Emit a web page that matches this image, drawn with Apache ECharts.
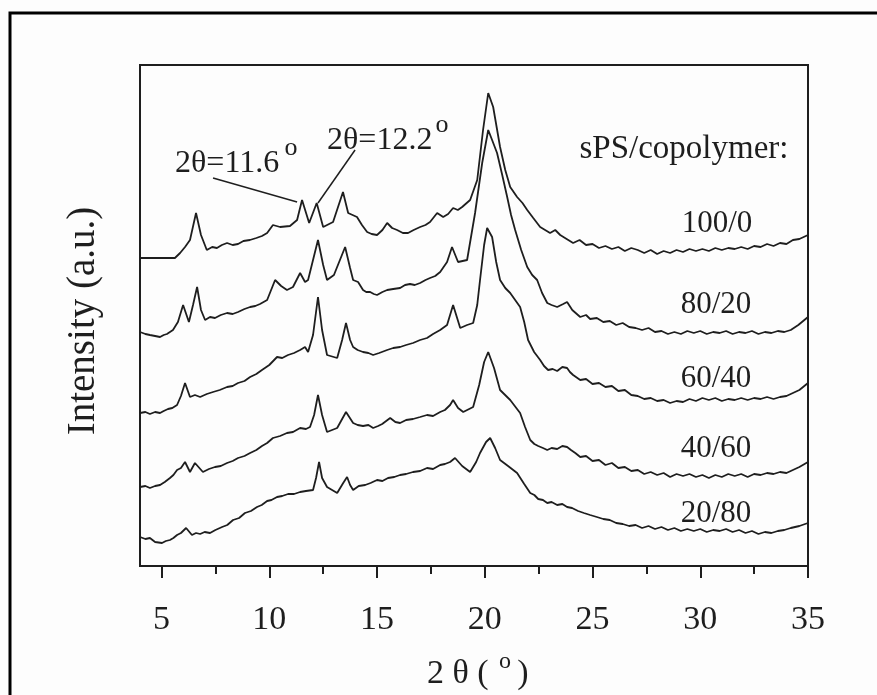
<!DOCTYPE html>
<html>
<head>
<meta charset="utf-8">
<title>sPS/copolymer XRD</title>
<script src="https://cdn.jsdelivr.net/npm/echarts@6/dist/echarts.min.js"></script>
<style>
  html, body { margin: 0; padding: 0; background: #fff; }
  #chart { width: 877px; height: 695px; }
</style>
</head>
<body>
<div id="chart"></div>
<script>
// values: [2theta, intensity (arbitrary, stacked)]
const s100_0 = [[4.0,308],[5.62,308],[5.86,313],[6.09,319],[6.32,326],[6.6,353],[6.83,331],[7.1,316],[7.35,319],[7.57,318],[7.8,321],[8.04,323],[8.3,321],[8.55,322],[8.8,325],[9.1,326],[9.4,328],[9.66,330],[9.9,333],[10.17,341],[10.5,339],[10.96,340],[11.29,346],[11.52,366],[11.85,343],[12.2,363],[12.5,339],[12.96,344],[13.42,374],[13.66,353],[14.07,349],[14.3,341],[14.54,334],[14.75,332],[15.0,331],[15.25,336],[15.47,343],[15.7,338],[15.93,336],[16.2,333],[16.44,333],[16.7,336],[17.0,339],[17.25,341],[17.46,344],[17.79,353],[18.07,349],[18.3,352],[18.53,358],[18.75,356],[18.95,359],[19.32,366],[19.65,386],[19.92,436],[20.16,473],[20.39,459],[20.71,419],[20.95,396],[21.18,379],[21.5,369],[21.75,363],[21.97,356],[22.25,348],[22.57,339],[22.8,336],[23.03,333],[23.27,336],[23.5,331],[23.8,327],[24.1,323],[24.4,326],[24.7,321],[25.0,322],[25.3,318],[25.6,320],[25.9,317],[26.2,319],[26.5,315],[26.8,318],[27.1,316],[27.4,313],[27.7,316],[28.0,312],[28.3,315],[28.6,313],[28.9,316],[29.2,314],[29.5,317],[29.8,315],[30.1,317],[30.4,315],[30.7,318],[31.0,316],[31.3,318],[31.6,317],[31.9,319],[32.2,317],[32.5,320],[32.8,319],[33.1,322],[33.4,320],[33.7,323],[34.0,322],[34.3,326],[34.6,327],[35.0,331]];
const s80_20 = [[4.0,234],[4.25,232],[4.46,231],[4.7,230],[4.93,229],[5.1,231],[5.25,232],[5.53,236],[5.76,244],[6.0,261],[6.27,244],[6.46,261],[6.65,279],[6.83,256],[7.02,246],[7.25,249],[7.48,248],[7.75,251],[8.04,253],[8.3,252],[8.55,254],[8.85,257],[9.11,259],[9.35,260],[9.57,262],[9.9,266],[10.27,286],[10.55,280],[10.82,276],[11.1,279],[11.43,293],[11.66,284],[11.8,286],[12.26,326],[12.5,301],[12.68,286],[13.0,291],[13.52,319],[13.75,298],[13.89,286],[14.12,284],[14.35,276],[14.5,274],[14.68,274],[14.85,272],[15.0,271],[15.25,274],[15.47,276],[15.75,277],[16.07,278],[16.3,281],[16.53,282],[16.75,281],[17.0,283],[17.25,286],[17.46,288],[17.7,290],[17.93,294],[18.25,304],[18.48,319],[18.76,304],[19.18,306],[19.55,353],[19.88,403],[20.16,436],[20.34,426],[20.57,413],[20.81,391],[21.04,369],[21.22,351],[21.41,336],[21.69,316],[21.97,299],[22.2,291],[22.43,286],[22.66,273],[22.9,263],[23.1,261],[23.36,259],[23.64,262],[23.82,264],[24.06,256],[24.43,249],[24.7,251],[24.89,247],[25.2,248],[25.5,244],[25.8,245],[26.1,241],[26.4,243],[26.7,239],[27.0,238],[27.3,236],[27.6,238],[27.9,234],[28.2,235],[28.5,232],[28.8,234],[29.1,232],[29.4,235],[29.7,233],[30.0,235],[30.3,232],[30.6,234],[30.9,233],[31.2,235],[31.5,232],[31.8,234],[32.1,233],[32.4,235],[32.7,232],[33.0,234],[33.3,233],[33.6,235],[33.9,234],[34.2,236],[34.55,241],[35.0,249]];
const s60_40 = [[4.0,153],[4.25,154],[4.46,152],[4.7,154],[4.93,153],[5.1,155],[5.3,157],[5.5,158],[5.72,161],[5.9,170],[6.09,183],[6.32,169],[6.55,171],[6.79,169],[7.1,172],[7.39,174],[7.7,176],[8.04,179],[8.3,180],[8.55,183],[8.85,185],[9.11,189],[9.4,192],[9.66,196],[10.0,201],[10.36,209],[10.6,208],[10.87,211],[11.15,213],[11.43,216],[11.66,219],[11.8,214],[12.03,231],[12.26,269],[12.45,236],[12.68,211],[13.15,208],[13.38,226],[13.56,243],[13.75,226],[13.89,219],[14.1,216],[14.35,214],[14.6,213],[14.82,211],[15.1,213],[15.47,216],[15.75,218],[16.07,219],[16.35,221],[16.67,223],[17.0,226],[17.32,228],[17.6,232],[17.93,236],[18.25,241],[18.53,261],[18.86,238],[19.18,241],[19.46,243],[19.65,261],[19.78,286],[19.97,321],[20.11,338],[20.34,329],[20.53,304],[20.71,286],[20.95,278],[21.18,273],[21.41,266],[21.64,259],[21.83,244],[22.01,226],[22.29,214],[22.57,206],[22.75,200],[22.94,196],[23.15,197],[23.36,195],[23.6,199],[23.82,198],[23.95,194],[24.1,191],[24.43,186],[24.7,187],[25.0,182],[25.3,183],[25.6,179],[25.9,180],[26.2,175],[26.5,176],[26.8,171],[27.1,170],[27.4,167],[27.7,168],[28.0,165],[28.3,166],[28.6,163],[28.9,165],[29.2,164],[29.5,167],[29.8,165],[30.1,168],[30.4,166],[30.7,168],[31.0,165],[31.3,167],[31.6,166],[31.9,168],[32.2,166],[32.5,168],[32.8,167],[33.1,169],[33.4,167],[33.7,169],[34.0,170],[34.3,173],[34.6,176],[35.0,183]];
const s40_60 = [[4.0,79],[4.25,80],[4.46,78],[4.7,80],[4.93,81],[5.15,84],[5.39,88],[5.55,91],[5.72,96],[5.9,98],[6.09,104],[6.32,94],[6.55,103],[6.92,94],[7.2,97],[7.48,99],[7.75,100],[8.04,103],[8.3,105],[8.55,108],[8.85,110],[9.11,113],[9.4,116],[9.66,120],[9.9,123],[10.17,128],[10.5,130],[10.82,133],[11.1,134],[11.43,138],[11.7,137],[11.89,139],[12.08,151],[12.26,171],[12.45,151],[12.68,134],[13.15,138],[13.56,154],[13.89,143],[14.1,141],[14.35,140],[14.6,141],[14.82,138],[15.05,140],[15.24,142],[15.61,148],[15.85,144],[16.07,143],[16.35,146],[16.67,147],[17.0,149],[17.32,151],[17.6,150],[17.93,154],[18.15,156],[18.39,161],[18.53,166],[18.76,158],[19.0,154],[19.46,159],[19.74,181],[19.97,204],[20.16,214],[20.43,198],[20.71,176],[21.18,166],[21.64,153],[21.87,139],[22.11,126],[22.3,122],[22.48,120],[22.7,118],[22.9,116],[23.1,118],[23.36,117],[23.6,120],[23.82,119],[24.0,116],[24.2,113],[24.43,109],[24.7,110],[25.0,105],[25.3,106],[25.6,101],[25.9,103],[26.2,98],[26.5,99],[26.8,95],[27.1,96],[27.4,92],[27.7,94],[28.0,91],[28.3,93],[28.6,89],[28.9,92],[29.2,90],[29.5,92],[29.8,89],[30.1,91],[30.4,88],[30.7,91],[31.0,89],[31.3,92],[31.6,90],[31.9,92],[32.2,89],[32.5,92],[32.8,91],[33.1,93],[33.4,92],[33.7,94],[34.0,93],[34.3,96],[34.6,99],[35.0,104]];
const s20_80 = [[4.0,29],[4.25,27],[4.46,28],[4.7,24],[5.02,23],[5.2,25],[5.39,26],[5.55,28],[5.72,31],[5.9,33],[6.14,38],[6.41,31],[6.6,33],[6.79,32],[7.0,34],[7.25,33],[7.5,36],[7.81,39],[8.05,41],[8.32,46],[8.6,48],[8.87,53],[9.15,55],[9.43,59],[9.65,61],[9.9,65],[10.1,66],[10.36,69],[10.6,70],[10.87,72],[11.15,72],[11.43,74],[11.7,75],[12.03,76],[12.17,88],[12.31,104],[12.45,88],[12.68,79],[13.15,73],[13.43,83],[13.61,89],[13.75,81],[13.89,76],[14.15,80],[14.45,81],[14.7,83],[15.0,86],[15.25,85],[15.51,88],[15.8,89],[16.07,91],[16.35,92],[16.67,94],[17.0,95],[17.32,98],[17.6,97],[17.93,101],[18.15,102],[18.39,104],[18.62,108],[18.95,100],[19.32,94],[19.6,104],[19.78,113],[20.06,124],[20.25,128],[20.48,118],[20.71,106],[21.08,100],[21.5,93],[21.83,82],[22.11,73],[22.3,71],[22.48,67],[22.7,66],[22.9,63],[23.1,64],[23.36,61],[23.6,62],[23.82,59],[24.05,58],[24.33,55],[24.6,53],[24.89,51],[25.2,49],[25.5,47],[25.8,46],[26.1,43],[26.4,42],[26.7,40],[27.0,41],[27.3,38],[27.6,40],[27.9,37],[28.2,39],[28.5,36],[28.8,38],[29.1,35],[29.4,37],[29.7,35],[30.0,37],[30.3,34],[30.6,36],[30.9,35],[31.2,37],[31.5,34],[31.8,36],[32.1,33],[32.4,35],[32.7,32],[33.0,34],[33.3,33],[33.6,35],[33.9,36],[34.2,38],[34.6,40],[35.0,43]];

const seriesNames = ['100/0', '80/20', '60/40', '40/60', '20/80'];
const majorTicks = [5, 10, 15, 20, 25, 30, 35];
const minorTicks = [7.5, 12.5, 17.5, 22.5, 27.5, 32.5];
// leader lines of the two peak notes, [from, to] in data units
const leaders = [
  [[7.39, 388], [11.29, 364]],
  [[13.98, 416], [12.26, 363]]
];

const serif = "'Liberation Serif', 'Times New Roman', serif";
const ink = '#1e1e1e';

const myChart = echarts.init(document.getElementById('chart'), null, {renderer: 'canvas'});

const xBase = {
  type: 'value',
  min: 4,
  max: 35,
  position: 'bottom',
  splitLine: {show: false},
  axisLine: {show: true, lineStyle: {color: ink, width: 2}}
};

const txt = (text, x, y, size, align, opt) => Object.assign({
  type: 'text', x: x, y: y, z: 20,
  style: {text: text, fill: ink, font: size + 'px ' + serif, align: align || 'center', verticalAlign: 'middle'}
}, opt || {});

let option = {
  backgroundColor: '#fdfdfd',
  animation: false,
  grid: {
    left: 140,
    right: 69,
    top: 65,
    bottom: 129,
    show: true,
    borderColor: ink,
    borderWidth: 2
  },
  xAxis: [
    Object.assign({}, xBase, {
      axisTick: {show: true, length: 12, lineStyle: {color: ink, width: 2}, customValues: majorTicks},
      axisLabel: {
        show: true, customValues: majorTicks, margin: 37,
        color: ink, fontSize: 34, fontFamily: serif
      }
    }),
    Object.assign({}, xBase, {
      axisTick: {show: true, length: 8, lineStyle: {color: ink, width: 2}, customValues: minorTicks},
      axisLabel: {show: false}
    })
  ],
  yAxis: {
    type: 'value',
    min: 0,
    max: 501,
    axisLine: {show: true, lineStyle: {color: ink, width: 2}},
    axisTick: {show: false},
    axisLabel: {show: false},
    splitLine: {show: false}
  },
  series: [s100_0, s80_20, s60_40, s40_60, s20_80].map((d, i) => ({
    name: seriesNames[i],
    type: 'line',
    data: d,
    symbol: 'none',
    smooth: false,
    lineStyle: {color: ink, width: 1.8},
    markLine: i === 0 ? {
      silent: true,
      symbol: 'none',
      label: {show: false},
      lineStyle: {color: ink, width: 1.5, type: 'solid'},
      data: leaders.map(l => [{coord: l[0]}, {coord: l[1]}])
    } : undefined
  })),
  graphic: [
    {type: 'rect', z: 0, shape: {x: 10, y: 13, width: 900, height: 720},
      style: {fill: 'none', stroke: '#000', lineWidth: 3}},
    txt('Intensity (a.u.)', 84, 321, 39, 'center', {rotation: Math.PI / 2}),
    txt('2 θ (', 427, 674, 34, 'left'),
    txt('o', 505, 662, 24),
    txt(')', 523, 674, 34),
    txt('sPS/copolymer:', 684, 149, 33),
    txt('100/0', 717, 224, 31),
    txt('80/20', 716, 305, 31),
    txt('60/40', 716, 379, 31),
    txt('40/60', 716, 449, 31),
    txt('20/80', 716, 514, 31),
    txt('2θ=11.6', 175, 164, 32, 'left'),
    txt('o', 291, 148, 26),
    txt('2θ=12.2', 327, 141, 32, 'left'),
    txt('o', 442, 125, 26)
  ]
};

myChart.setOption(option);
</script>
</body>
</html>
